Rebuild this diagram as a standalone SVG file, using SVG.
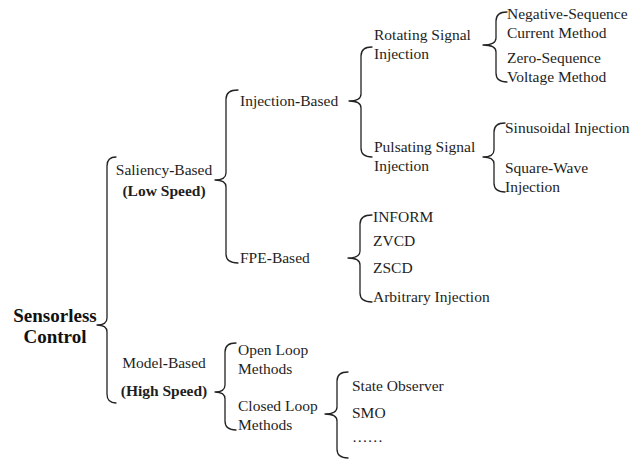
<svg xmlns="http://www.w3.org/2000/svg" width="634" height="461" viewBox="0 0 634 461">
<style>
text{font-family:"Liberation Serif","Times New Roman",serif;font-size:15.5px;fill:#1e1e1e}
.b{font-weight:bold}
.root{font-size:19px;font-weight:bold;fill:#111}
.h{font-weight:bold}
.mid{text-anchor:middle}
.brace{fill:none;stroke:#222;stroke-width:1.3;stroke-linecap:round;stroke-linejoin:round}
</style>
<rect width="634" height="461" fill="#fff"/>
<g id="connectors">
<path class="brace" d="M116,157 Q107,157 107,166 L107,318 Q107,325 97,325 Q107,325 107,332 L107,394 Q107,403 116,403"/>
<path class="brace" d="M238,90 Q226,90 226,99 L226,173 Q226,180 215,180 Q226,180 226,187 L226,254 Q226,263 238,263"/>
<path class="brace" d="M372,47 Q361,47 361,56 L361,94 Q361,101 349,101 Q361,101 361,108 L361,148 Q361,157 372,157"/>
<path class="brace" d="M372,215 Q360,215 360,224 L360,251 Q360,258 348,258 Q360,258 360,265 L360,293 Q360,302 372,302"/>
<path class="brace" d="M507,12 Q496,12 496,21 L496,38 Q496,45 483,45 Q496,45 496,52 L496,73 Q496,82 507,82"/>
<path class="brace" d="M505,123 Q494,123 494,132 L494,150 Q494,157 483,157 Q494,157 494,164 L494,183 Q494,192 505,192"/>
<path class="brace" d="M236,343 Q225,343 225,352 L225,385 Q225,392 215,392 Q225,392 225,399 L225,421 Q225,430 236,430"/>
<path class="brace" d="M348,372 Q337,372 337,381 L337,407 Q337,414 325,414 Q337,414 337,421 L337,449 Q337,458 348,458"/>
</g>
<g id="root"><text class="root mid" x="55" y="322">Sensorless</text><text class="root mid" x="55" y="343">Control</text></g>
<g id="saliency"><text class="mid" x="164" y="175">Saliency<tspan class="h">-</tspan>Based</text><text class="b mid" x="164" y="196">(Low Speed)</text></g>
<g id="model"><text class="mid" x="164" y="368">Model<tspan class="h">-</tspan>Based</text><text class="b mid" x="164" y="396">(High Speed)</text></g>
<g id="injection"><text x="240" y="106">Injection<tspan class="h">-</tspan>Based</text></g>
<g id="fpe"><text x="240" y="263">FPE<tspan class="h">-</tspan>Based</text></g>
<g id="rotating"><text x="374" y="40">Rotating Signal</text><text x="374" y="59">Injection</text></g>
<g id="pulsating"><text x="374" y="152">Pulsating Signal</text><text x="374" y="171">Injection</text></g>
<g id="negseq"><text x="507" y="19">Negative<tspan class="h">-</tspan>Sequence</text><text x="507" y="38">Current Method</text></g>
<g id="zeroseq"><text x="507" y="63">Zero<tspan class="h">-</tspan>Sequence</text><text x="507" y="82">Voltage Method</text></g>
<g id="sinus"><text x="505" y="133">Sinusoidal Injection</text></g>
<g id="square"><text x="505" y="173">Square<tspan class="h">-</tspan>Wave</text><text x="505" y="192">Injection</text></g>
<g id="inform"><text x="373" y="222">INFORM</text></g>
<g id="zvcd"><text x="373" y="246">ZVCD</text></g>
<g id="zscd"><text x="373" y="273">ZSCD</text></g>
<g id="arbitrary"><text x="373" y="302">Arbitrary Injection</text></g>
<g id="openloop"><text x="238" y="355">Open Loop</text><text x="238" y="374">Methods</text></g>
<g id="closedloop"><text x="238" y="411">Closed Loop</text><text x="238" y="430">Methods</text></g>
<g id="stateobs"><text x="352" y="391">State Observer</text></g>
<g id="smo"><text x="352" y="418">SMO</text></g>
<g id="more"><text x="352" y="442">……</text></g>
</svg>
